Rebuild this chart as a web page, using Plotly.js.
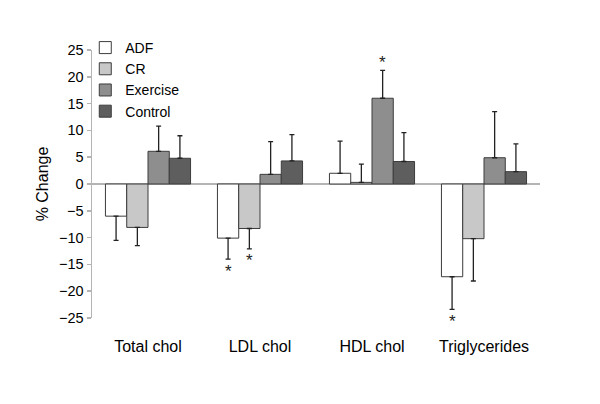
<!DOCTYPE html>
<html><head><meta charset="utf-8">
<script src="https://cdn.plot.ly/plotly-3.0.1.min.js"></script>
<style>body{margin:0;background:#fff}#chart{width:600px;height:404px}</style>
</head><body><div id="chart"></div>
<script>
const categories = ["Total chol", "LDL chol", "HDL chol", "Triglycerides"];
const seriesNames = ["ADF", "CR", "Exercise", "Control"];
const adfVals = [-6.0, -10.1, 2.0, -17.3];
const crVals = [-8.1, -8.3, 0.3, -10.2];
const exerciseVals = [6.1, 1.8, 16.0, 4.9];
const controlVals = [4.8, 4.3, 4.2, 2.3];
const adfErr = [4.5, 3.9, 6.0, 6.1];
const crErr = [3.4, 3.8, 3.4, 7.9];
const exerciseErr = [4.7, 6.1, 5.2, 8.6];
const controlErr = [4.2, 4.9, 5.4, 5.2];
// significance markers: [series index, category index]
const sigMarks = [[0, 1], [1, 1], [2, 2], [0, 3]];

const colors = ["#ffffff", "#c8c8c8", "#8e8e8e", "#5e5e5e"];
const vals = [adfVals, crVals, exerciseVals, controlVals];
const errs = [adfErr, crErr, exerciseErr, controlErr];

const traces = vals.map((v, i) => ({
  type: "bar",
  name: seriesNames[i],
  x: categories,
  y: v,
  marker: {color: colors[i], line: {color: "#3c3c3c", width: 1}},
  error_y: {
    type: "data", symmetric: false,
    array: v.map((d, j) => d >= 0 ? errs[i][j] : 0),
    arrayminus: v.map((d, j) => d < 0 ? errs[i][j] : 0),
    color: "#222", thickness: 1.3, width: 2.5
  }
}));

const plotW = 448, nCat = categories.length, bargap = 0.24;
const barW = plotW / nCat * (1 - bargap) / 4;
const annotations = sigMarks.map(([s, c]) => {
  const v = vals[s][c], e = errs[s][c];
  const end = v >= 0 ? v + e : v - e;
  return {
    x: categories[c], y: end, xref: "x", yref: "y",
    text: "*", showarrow: false,
    xshift: (s - 1.5) * barW,
    yshift: v >= 0 ? 8 : -12,
    font: {family: "Arial, Liberation Sans, sans-serif", size: 17, color: "#222"}
  };
});

const layout = {
  width: 600, height: 404,
  margin: {l: 92, r: 60, t: 50, b: 86},
  paper_bgcolor: "#fff", plot_bgcolor: "#fff",
  barmode: "group", bargap: bargap, bargroupgap: 0,
  font: {family: "Arial, Liberation Sans, sans-serif", color: "#000", size: 14},
  showlegend: true,
  legend: {x: -0.015, y: 0.89, xanchor: "left", yanchor: "middle",
    font: {size: 14}, bgcolor: "rgba(0,0,0,0)", tracegroupgap: 0, itemwidth: 30},
  xaxis: {showline: false, showgrid: false, zeroline: false, ticks: "",
    ticklabelstandoff: 17, tickfont: {size: 16}},
  yaxis: {range: [-25, 25], dtick: 5, tick0: 0, showgrid: false,
    showline: true, linecolor: "#b4b4b4", linewidth: 1.5,
    ticks: "outside", ticklen: 4, tickcolor: "#b4b4b4", tickwidth: 1.5,
    zeroline: true, zerolinecolor: "#b4b4b4", zerolinewidth: 1.5,
    tickfont: {size: 14.5},
    title: {text: "% Change", font: {size: 16}, standoff: 6}},
  annotations: annotations
};
Plotly.newPlot("chart", traces, layout, {displayModeBar: false, staticPlot: true});
</script></body></html>
